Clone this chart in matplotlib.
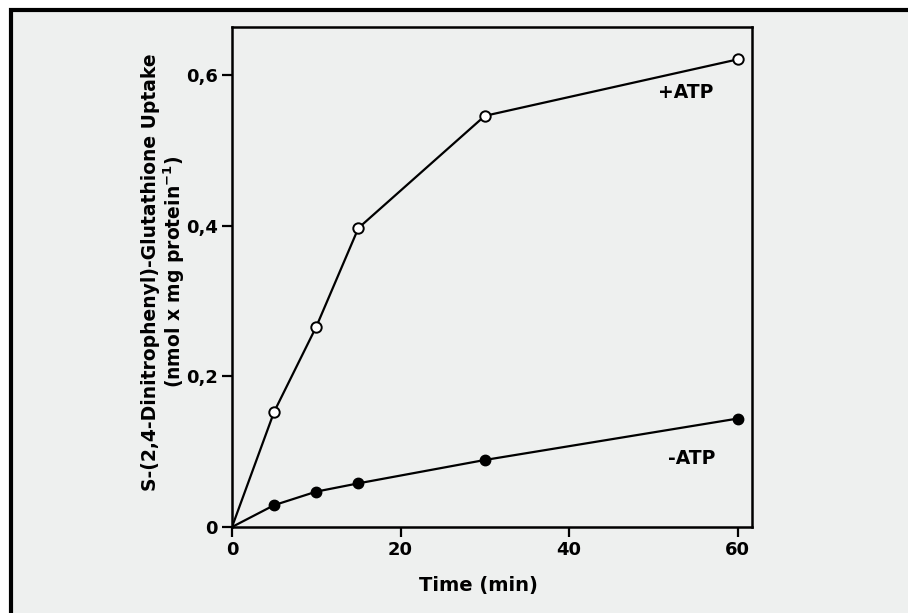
import matplotlib
matplotlib.use("Agg")
import matplotlib.pyplot as plt
from matplotlib.patches import Rectangle

time_min = [0, 5, 10, 15, 30, 60]
plus_atp = [0.0, 0.153, 0.266, 0.397, 0.546, 0.621]
minus_atp = [0.0, 0.029, 0.047, 0.058, 0.089, 0.144]
x_ticks = [0, 20, 40, 60]
y_ticks = [0, 0.2, 0.4, 0.6]
y_tick_labels = ["0", "0,2", "0,4", "0,6"]

W, H = 908, 613
fig = plt.figure(figsize=(W / 100, H / 100), dpi=100, facecolor="white")
bg = "#eef0ef"
fig.patches.append(Rectangle((11 / W, -0.1), 1.2, 1.1 - 10 / H, transform=fig.transFigure,
                             facecolor=bg, edgecolor="black", linewidth=3.0, zorder=-5))

ax = fig.add_axes([232 / W, 1 - 527 / H, 520 / W, 500 / H])
ax.set_zorder(2)
ax.set_facecolor(bg)
ax.plot(time_min, plus_atp, color="black", lw=1.6, zorder=2)
ax.plot(time_min[1:], plus_atp[1:], lw=0, marker="o", ms=7.5,
        mfc="white", mec="black", mew=1.4, zorder=3)
ax.plot(time_min, minus_atp, color="black", lw=1.6, zorder=2)
ax.plot(time_min[1:], minus_atp[1:], lw=0, marker="o", ms=7.5,
        mfc="black", mec="black", zorder=3)

ax.set_xlim(0, 61.7)
ax.set_ylim(0, 0.664)
ax.set_xticks(x_ticks)
ax.set_yticks(y_ticks)
ax.set_yticklabels(y_tick_labels)
for s in ax.spines.values():
    s.set_linewidth(1.8)
ax.tick_params(direction="out", length=7, width=1.6, labelsize=13, pad=3)
for lab in ax.get_xticklabels() + ax.get_yticklabels():
    lab.set_fontweight("bold")

ax.set_xlabel("Time (min)", fontsize=14, fontweight="bold")
ax.xaxis.set_label_coords((478 - 232) / 520, -(585 - 527) / 500)
ax.xaxis.label.set_va("center")
ax.set_ylabel("S-(2,4-Dinitrophenyl)-Glutathione Uptake\n(nmol x mg protein$^{\\mathbf{-1}}$)",
              fontsize=13.5, fontweight="bold", linespacing=1.1)
ax.yaxis.set_label_coords(-(232 - 164) / 520, (527 - 272) / 500)
ax.yaxis.label.set_va("center")

ax.annotate("+ATP", xy=(686 / W, 1 - 93 / H), xycoords="figure fraction",
            ha="center", va="center", fontsize=13.5, fontweight="bold")
ax.annotate("-ATP", xy=(692 / W, 1 - 458 / H), xycoords="figure fraction",
            ha="center", va="center", fontsize=13.5, fontweight="bold")

fig.savefig("out.png", dpi=100, facecolor="white")
